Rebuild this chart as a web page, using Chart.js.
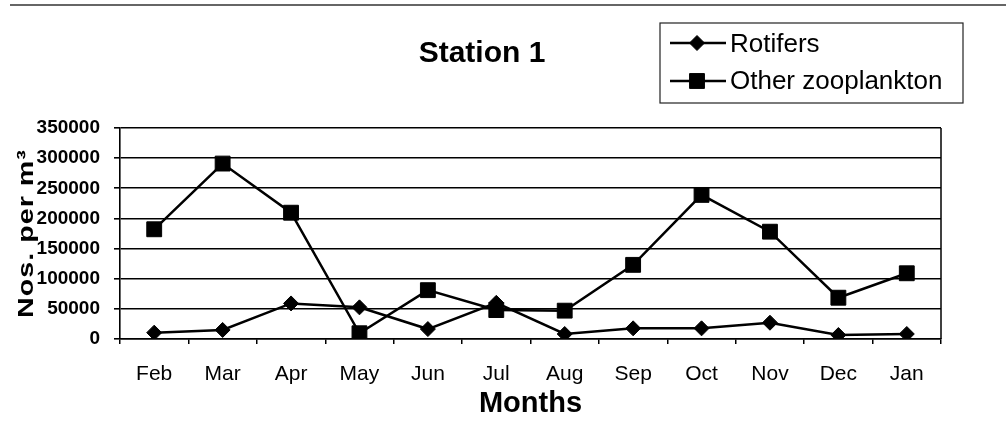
<!DOCTYPE html>
<html>
<head>
<meta charset="utf-8">
<title>Station 1</title>
<script src="https://cdn.jsdelivr.net/npm/chart.js@4.4.1/dist/chart.umd.min.js"></script>
<style>
  html, body { margin: 0; padding: 0; background: #fff; }
  canvas { display: block; }
</style>
</head>
<body>
<canvas id="chart" width="1006" height="438"></canvas>
<script>
// Monthly zooplankton counts at Station 1 (numbers per cubic metre)
const months = ['Feb', 'Mar', 'Apr', 'May', 'Jun', 'Jul', 'Aug', 'Sep', 'Oct', 'Nov', 'Dec', 'Jan'];
const rotifers = [10500, 15000, 59000, 52500, 16500, 60000, 8300, 17700, 17700, 27000, 6600, 8300];
const otherZooplankton = [182000, 291000, 209500, 9500, 81000, 48000, 47000, 123000, 239000, 178000, 68500, 109000];
const yMin = 0;
const yMax = 350000;
const yStep = 50000;

const SANS = "'Liberation Sans', Arial, Helvetica, sans-serif";
const INK = '#000';

// Page rule, title, y-axis caption, right frame edge and the boxed legend
const decorations = {
  id: 'decorations',
  afterDraw(chart) {
    const ctx = chart.ctx;
    const area = chart.chartArea;
    ctx.save();

    // thin rule across the top of the page
    ctx.strokeStyle = '#333';
    ctx.lineWidth = 1.5;
    ctx.beginPath();
    ctx.moveTo(10, 5);
    ctx.lineTo(1006, 5);
    ctx.stroke();

    // right edge of the plot frame
    ctx.strokeStyle = INK;
    ctx.lineWidth = 1.5;
    ctx.beginPath();
    ctx.moveTo(area.right, area.top);
    ctx.lineTo(area.right, area.bottom);
    ctx.stroke();

    // chart title
    ctx.fillStyle = INK;
    ctx.font = 'bold 30px ' + SANS;
    ctx.textAlign = 'center';
    ctx.textBaseline = 'alphabetic';
    ctx.fillText('Station 1', 482, 62);

    // y-axis caption, rotated and stretched along its length
    ctx.save();
    ctx.translate(33, (area.top + area.bottom) / 2);
    ctx.rotate(-Math.PI / 2);
    ctx.scale(1.3, 1);
    ctx.font = 'bold 22px ' + SANS;
    ctx.letterSpacing = '0.8px';
    ctx.textAlign = 'center';
    ctx.textBaseline = 'alphabetic';
    ctx.fillText('Nos. per m\u00B3', 0, 0);
    ctx.restore();

    // legend box
    const box = { x: 660, y: 23, w: 303, h: 80 };
    ctx.strokeStyle = '#222';
    ctx.lineWidth = 1.2;
    ctx.strokeRect(box.x, box.y, box.w, box.h);

    const rows = [
      { lineY: 43, textY: 52 },
      { lineY: 81, textY: 88.5 }
    ];
    chart.data.datasets.forEach((ds, i) => {
      const r = rows[i];
      ctx.strokeStyle = ds.borderColor;
      ctx.lineWidth = 2.5;
      ctx.beginPath();
      ctx.moveTo(670, r.lineY);
      ctx.lineTo(726, r.lineY);
      ctx.stroke();
      ctx.fillStyle = ds.pointBackgroundColor;
      ctx.strokeStyle = ds.pointBorderColor;
      ctx.lineWidth = 1;
      Chart.helpers.drawPoint(ctx, {
        pointStyle: ds.pointStyle,
        radius: ds.pointRadius,
        rotation: 0,
        borderWidth: 1
      }, 697, r.lineY);
      ctx.fillStyle = INK;
      ctx.font = '26px ' + SANS;
      ctx.textAlign = 'left';
      ctx.textBaseline = 'alphabetic';
      ctx.fillText(ds.label, 730, r.textY);
    });

    ctx.restore();
  }
};

new Chart(document.getElementById('chart'), {
  type: 'line',
  data: {
    labels: months,
    datasets: [
      {
        label: 'Rotifers',
        data: rotifers,
        borderColor: INK,
        backgroundColor: INK,
        borderWidth: 2.5,
        pointStyle: 'rectRot',
        pointRadius: 7.5,
        pointBackgroundColor: INK,
        pointBorderColor: INK,
        pointBorderWidth: 1,
        tension: 0,
        fill: false
      },
      {
        label: 'Other zooplankton',
        data: otherZooplankton,
        borderColor: INK,
        backgroundColor: INK,
        borderWidth: 2.5,
        pointStyle: 'rect',
        pointRadius: 10.5,
        pointBackgroundColor: INK,
        pointBorderColor: INK,
        pointBorderWidth: 1,
        tension: 0,
        fill: false
      }
    ]
  },
  options: {
    responsive: false,
    animation: false,
    devicePixelRatio: 1,
    layout: { padding: { top: 128, right: 65, bottom: 0, left: 0 } },
    plugins: {
      legend: { display: false },
      title: { display: false },
      tooltip: { enabled: false }
    },
    scales: {
      x: {
        offset: true,
        grid: {
          display: true,
          drawOnChartArea: false,
          drawTicks: true,
          tickLength: 5,
          offset: true,
          color: INK,
          lineWidth: 1.5
        },
        border: { color: INK, width: 1.5 },
        ticks: {
          color: INK,
          font: { family: SANS, size: 21 },
          padding: 18,
          maxRotation: 0,
          autoSkip: false
        },
        title: {
          display: true,
          text: 'Months',
          color: INK,
          font: { family: SANS, size: 29, weight: 'bold' },
          padding: { top: 0, bottom: 17 }
        },
        afterFit(scale) { scale.height = 99; }
      },
      y: {
        min: yMin,
        max: yMax,
        grid: {
          color: INK,
          lineWidth: 1.6,
          drawTicks: true,
          tickLength: 6
        },
        border: { color: INK, width: 1.6 },
        ticks: {
          stepSize: yStep,
          autoSkip: false,
          color: INK,
          font: { family: SANS, size: 19, weight: 'bold' },
          padding: 14,
          callback: (v) => String(v)
        },
        afterFit(scale) { scale.width = 120; }
      }
    }
  },
  plugins: [decorations]
});
</script>
</body>
</html>
